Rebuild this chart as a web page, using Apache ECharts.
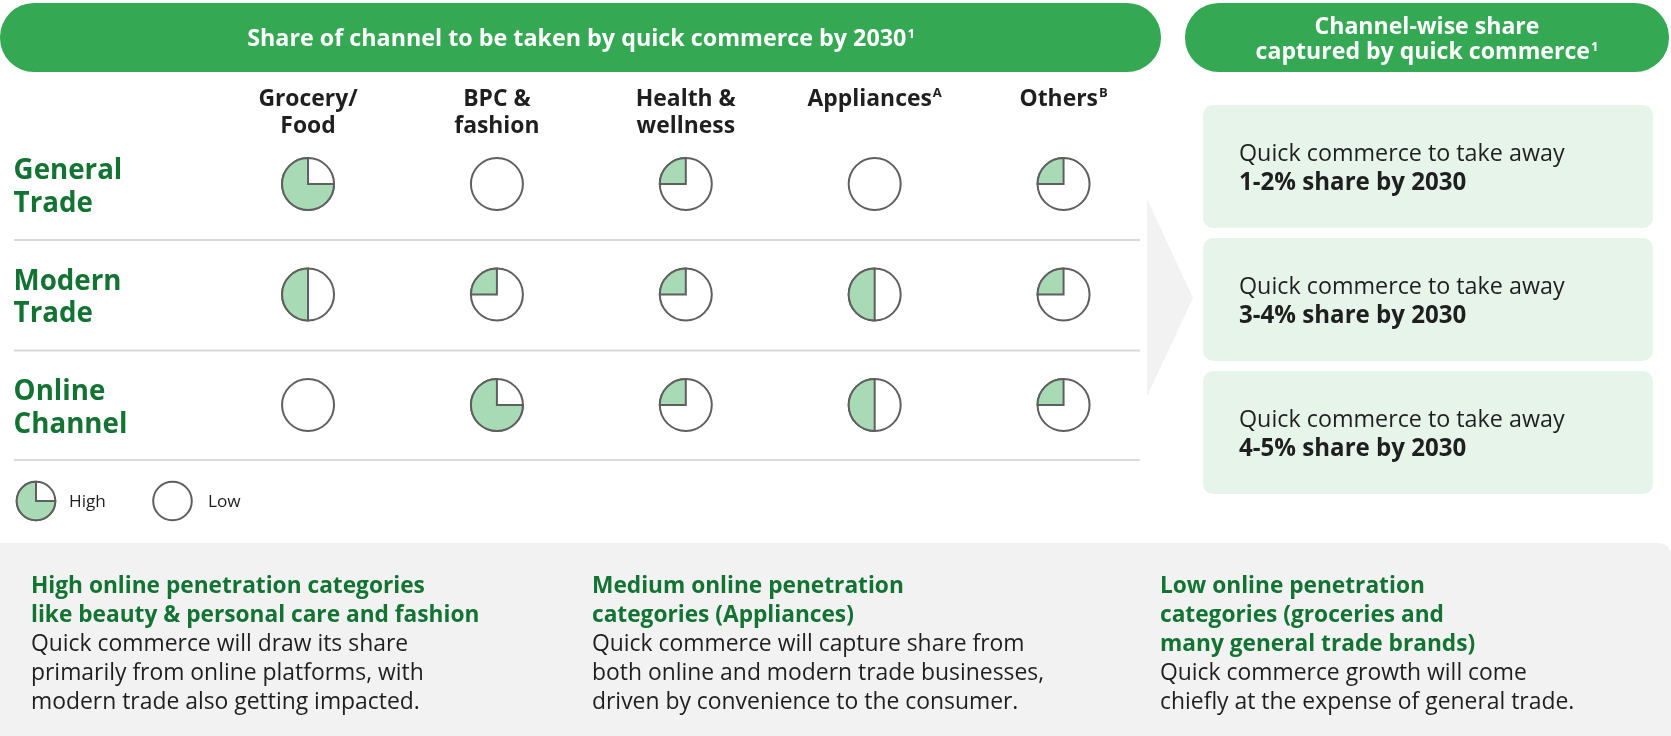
<!DOCTYPE html>
<html><head><meta charset="utf-8">
<script src="https://cdn.jsdelivr.net/npm/echarts@6/dist/echarts.min.js"></script>
<style>html,body{margin:0;padding:0;background:#fff}#c{width:1671px;height:736px}</style>
</head><body><div id="c"></div>
<script>
// ---- data ----
const categories = ['Grocery/\nFood', 'BPC &\nfashion', 'Health &\nwellness', 'Appliances', 'Others'];
const categorySup = ['', '', '', 'A', 'B'];
const channels = ['General\nTrade', 'Modern\nTrade', 'Online\nChannel'];
// filled quarters of each Harvey ball (0 = empty ... 4 = full)
const generalTrade = [3, 0, 1, 0, 1];
const modernTrade = [2, 1, 1, 2, 1];
const onlineChannel = [0, 3, 1, 2, 1];
const channelShares = ['1-2%', '3-4%', '4-5%'];
const legendLabels = ['High', 'Low'];
const legendQuarters = [3, 0];
const leftTitle = 'Share of channel to be taken by quick commerce by 2030';
const rightTitle = ['Channel-wise share', 'captured by quick commerce'];
const boxLead = 'Quick commerce to take away';
const noteTitles = [
  ['High online penetration categories', 'like beauty & personal care and fashion'],
  ['Medium online penetration', 'categories (Appliances)'],
  ['Low online penetration', 'categories (groceries and', 'many general trade brands)']
];
const noteBodies = [
  ['Quick commerce will draw its share', 'primarily from online platforms, with', 'modern trade also getting impacted.'],
  ['Quick commerce will capture share from', 'both online and modern trade businesses,', 'driven by convenience to the consumer.'],
  ['Quick commerce growth will come', 'chiefly at the expense of general trade.']
];

// ---- styles ----
const GREEN = '#34a853', DARK_GREEN = '#137333', FILL = '#a8dab5', STROKE = '#5f5f5f', INK = '#1f1f1f';
const FAM = '"Open Sans", Roboto, sans-serif';
const mctx = document.createElement('canvas').getContext('2d');
// font size so that the given strings take the widths they have in the reference (median)
function fitSize(pairs, weight) {
  const s = pairs.map(([t, w]) => { mctx.font = weight + ' 100px ' + FAM; return 100 * w / mctx.measureText(t).width; });
  s.sort((a, b) => a - b);
  return Math.round(s[Math.floor(s.length / 2)] * 10) / 10;
}
const fsTitle = fitSize([[leftTitle, 660]], 'bold');
const fsRightTitle = fitSize([[rightTitle[0], 225], [rightTitle[1], 327]], 'bold');
const fsHeader = fitSize([['Grocery/', 102.5], ['Food', 55.5], ['BPC &', 68], ['fashion', 82], ['Health &', 97], ['wellness', 98], ['Appliances', 129], ['Others', 73]], 'bold');
const fsRow = fitSize([['General', 109], ['Channel', 113], ['Modern', 108], ['Online', 90]], 'bold');
const fsBox = fitSize([[boxLead, 325]], 'normal');
const fsBoxBold = fitSize([['1-2% share by 2030', 222], ['3-4% share by 2030', 227]], 'bold');
const fsNoteTitle = fitSize([[noteTitles[0][0], 395], [noteTitles[0][1], 444.6], [noteTitles[1][0], 308], [noteTitles[2][2], 315.5]], 'bold');
const fsNoteBody = fitSize([[noteBodies[0][0], 378], [noteBodies[0][1], 385], [noteBodies[0][2], 392], [noteBodies[1][1], 450], [noteBodies[2][1], 418]], 'normal');
const fsLegend = fitSize([['High', 37], ['Low', 32.5]], 'normal');

const rows = [generalTrade, modernTrade, onlineChannel];
const ballData = [];
rows.forEach((row, r) => row.forEach((q, c) => ballData.push([c, r, q])));

function ball(cx, cy, r, q) {
  const ch = [{ type: 'circle', shape: { cx, cy, r }, style: { fill: '#fff', stroke: STROKE, lineWidth: 2 } }];
  if (q > 0) ch.push({ type: 'sector', shape: { cx, cy, r0: 0, r, startAngle: -Math.PI / 2, endAngle: -Math.PI / 2 - q * Math.PI / 2, clockwise: false },
    style: { fill: FILL, stroke: STROKE, lineWidth: 2 } });
  return ch;
}
const supStyle = (fs, color) => ({ fontSize: fs, fontWeight: 'bold', fontFamily: FAM, fill: color, color: color, verticalAlign: 'top', lineHeight: fs, padding: [1, 0, 0, 1] });

const graphic = [];
// header pills
graphic.push({ type: 'rect', shape: { x: 0, y: 3, width: 1161, height: 69, r: 34 }, style: { fill: GREEN } });
graphic.push({ type: 'text', x: 581, y: 39.5, style: { text: leftTitle + '{s|1}', fill: '#fff', font: 'bold ' + fsTitle + 'px ' + FAM, lineHeight: 26,
  align: 'center', verticalAlign: 'middle', rich: { s: supStyle(Math.round(fsTitle * 0.55), '#fff') } } });
graphic.push({ type: 'rect', shape: { x: 1185, y: 3, width: 484, height: 69, r: 34 }, style: { fill: GREEN } });
graphic.push({ type: 'text', x: 1427, y: 40, style: { text: rightTitle[0] + '\n' + rightTitle[1] + '{s|1}', fill: '#fff', font: 'bold ' + fsRightTitle + 'px ' + FAM,
  lineHeight: 25, align: 'center', verticalAlign: 'middle', rich: { s: supStyle(Math.round(fsRightTitle * 0.55), '#fff') } } });
// row separators
[240, 350.5, 460].forEach(y => graphic.push({ type: 'line', shape: { x1: 14, y1: y, x2: 1140, y2: y }, style: { stroke: '#dadada', lineWidth: 2 } }));
// chevron
graphic.push({ type: 'polygon', shape: { points: [[1147, 199], [1193, 298], [1147, 396]] }, style: { fill: '#f2f2f2' } });
// right boxes
channelShares.forEach((s, i) => {
  const y = 105 + i * 133;
  graphic.push({ type: 'rect', shape: { x: 1203, y, width: 450, height: 123, r: 10 }, style: { fill: '#e6f4ea' } });
  graphic.push({ type: 'text', x: 1239, y: y + 64, style: { text: '{a|' + boxLead + '}\n{b|' + s + ' share by 2030}', align: 'left', verticalAlign: 'middle',
    rich: { a: { fontSize: fsBox, fontFamily: FAM, fill: INK, lineHeight: 28.6 }, b: { fontSize: fsBoxBold, fontWeight: 'bold', fontFamily: FAM, fill: INK, lineHeight: 28.6 } } } });
});
// legend
const legendX = [36, 172.5];
legendLabels.forEach((l, i) => {
  graphic.push({ type: 'group', children: ball(legendX[i], 501, 19.3, legendQuarters[i]) });
  graphic.push({ type: 'text', x: [69, 208][i], y: 502.5, style: { text: l, font: fsLegend + 'px ' + FAM, fill: INK, verticalAlign: 'middle' } });
});
// bottom panel
graphic.push({ type: 'rect', shape: { x: 0, y: 543, width: 1671, height: 210, r: [0, 12, 0, 0] }, style: { fill: '#f2f2f2' } });
const noteX = [31, 592, 1160];
noteTitles.forEach((tl, i) => {
  const txt = tl.map(t => '{t|' + t + '}').concat(noteBodies[i].map(b => '{b|' + b + '}')).join('\n');
  graphic.push({ type: 'text', x: noteX[i], y: 572, style: { text: txt, align: 'left', verticalAlign: 'top',
    rich: { t: { fontSize: fsNoteTitle, fontWeight: 'bold', fontFamily: FAM, fill: DARK_GREEN, lineHeight: 29 },
            b: { fontSize: fsNoteBody, fontFamily: FAM, fill: INK, lineHeight: 29 } } } });
});

const chart = echarts.init(document.getElementById('c'));
chart.setOption({
  animation: false,
  backgroundColor: '#fff',
  grid: { left: 213.6, right: 513, top: 128.75, bottom: 275.75 },
  xAxis: { type: 'category', data: categories, position: 'top', axisLine: { show: false }, axisTick: { show: false }, splitLine: { show: false },
    axisLabel: { interval: 0, margin: 42.5, verticalAlign: 'top', fontSize: fsHeader, fontWeight: 'bold', fontFamily: FAM, color: INK, lineHeight: 27,
      formatter: (v, i) => categorySup[i] ? v + '{s|' + categorySup[i] + '}' : v,
      rich: { s: supStyle(Math.round(fsHeader * 0.55), INK) } } },
  yAxis: { type: 'category', data: channels, inverse: true, axisLine: { show: false }, axisTick: { show: false }, splitLine: { show: false },
    axisLabel: { align: 'left', margin: 200, verticalAlign: 'middle',
      formatter: v => '{g| }\n' + v.split('\n').map(s => '{r|' + s + '}').join('\n'),
      rich: { g: { fontSize: 2, lineHeight: 7 },
              r: { fontSize: fsRow, fontWeight: 'bold', fontFamily: FAM, color: DARK_GREEN, lineHeight: 32.5 } } } },
  graphic: graphic,
  series: [{
    type: 'custom', data: ballData, encode: { x: 0, y: 1 },
    renderItem: (params, api) => {
      const p = api.coord([api.value(0), api.value(1)]);
      return { type: 'group', children: ball(p[0], p[1], 26, api.value(2)) };
    }
  }]
});
</script></body></html>
